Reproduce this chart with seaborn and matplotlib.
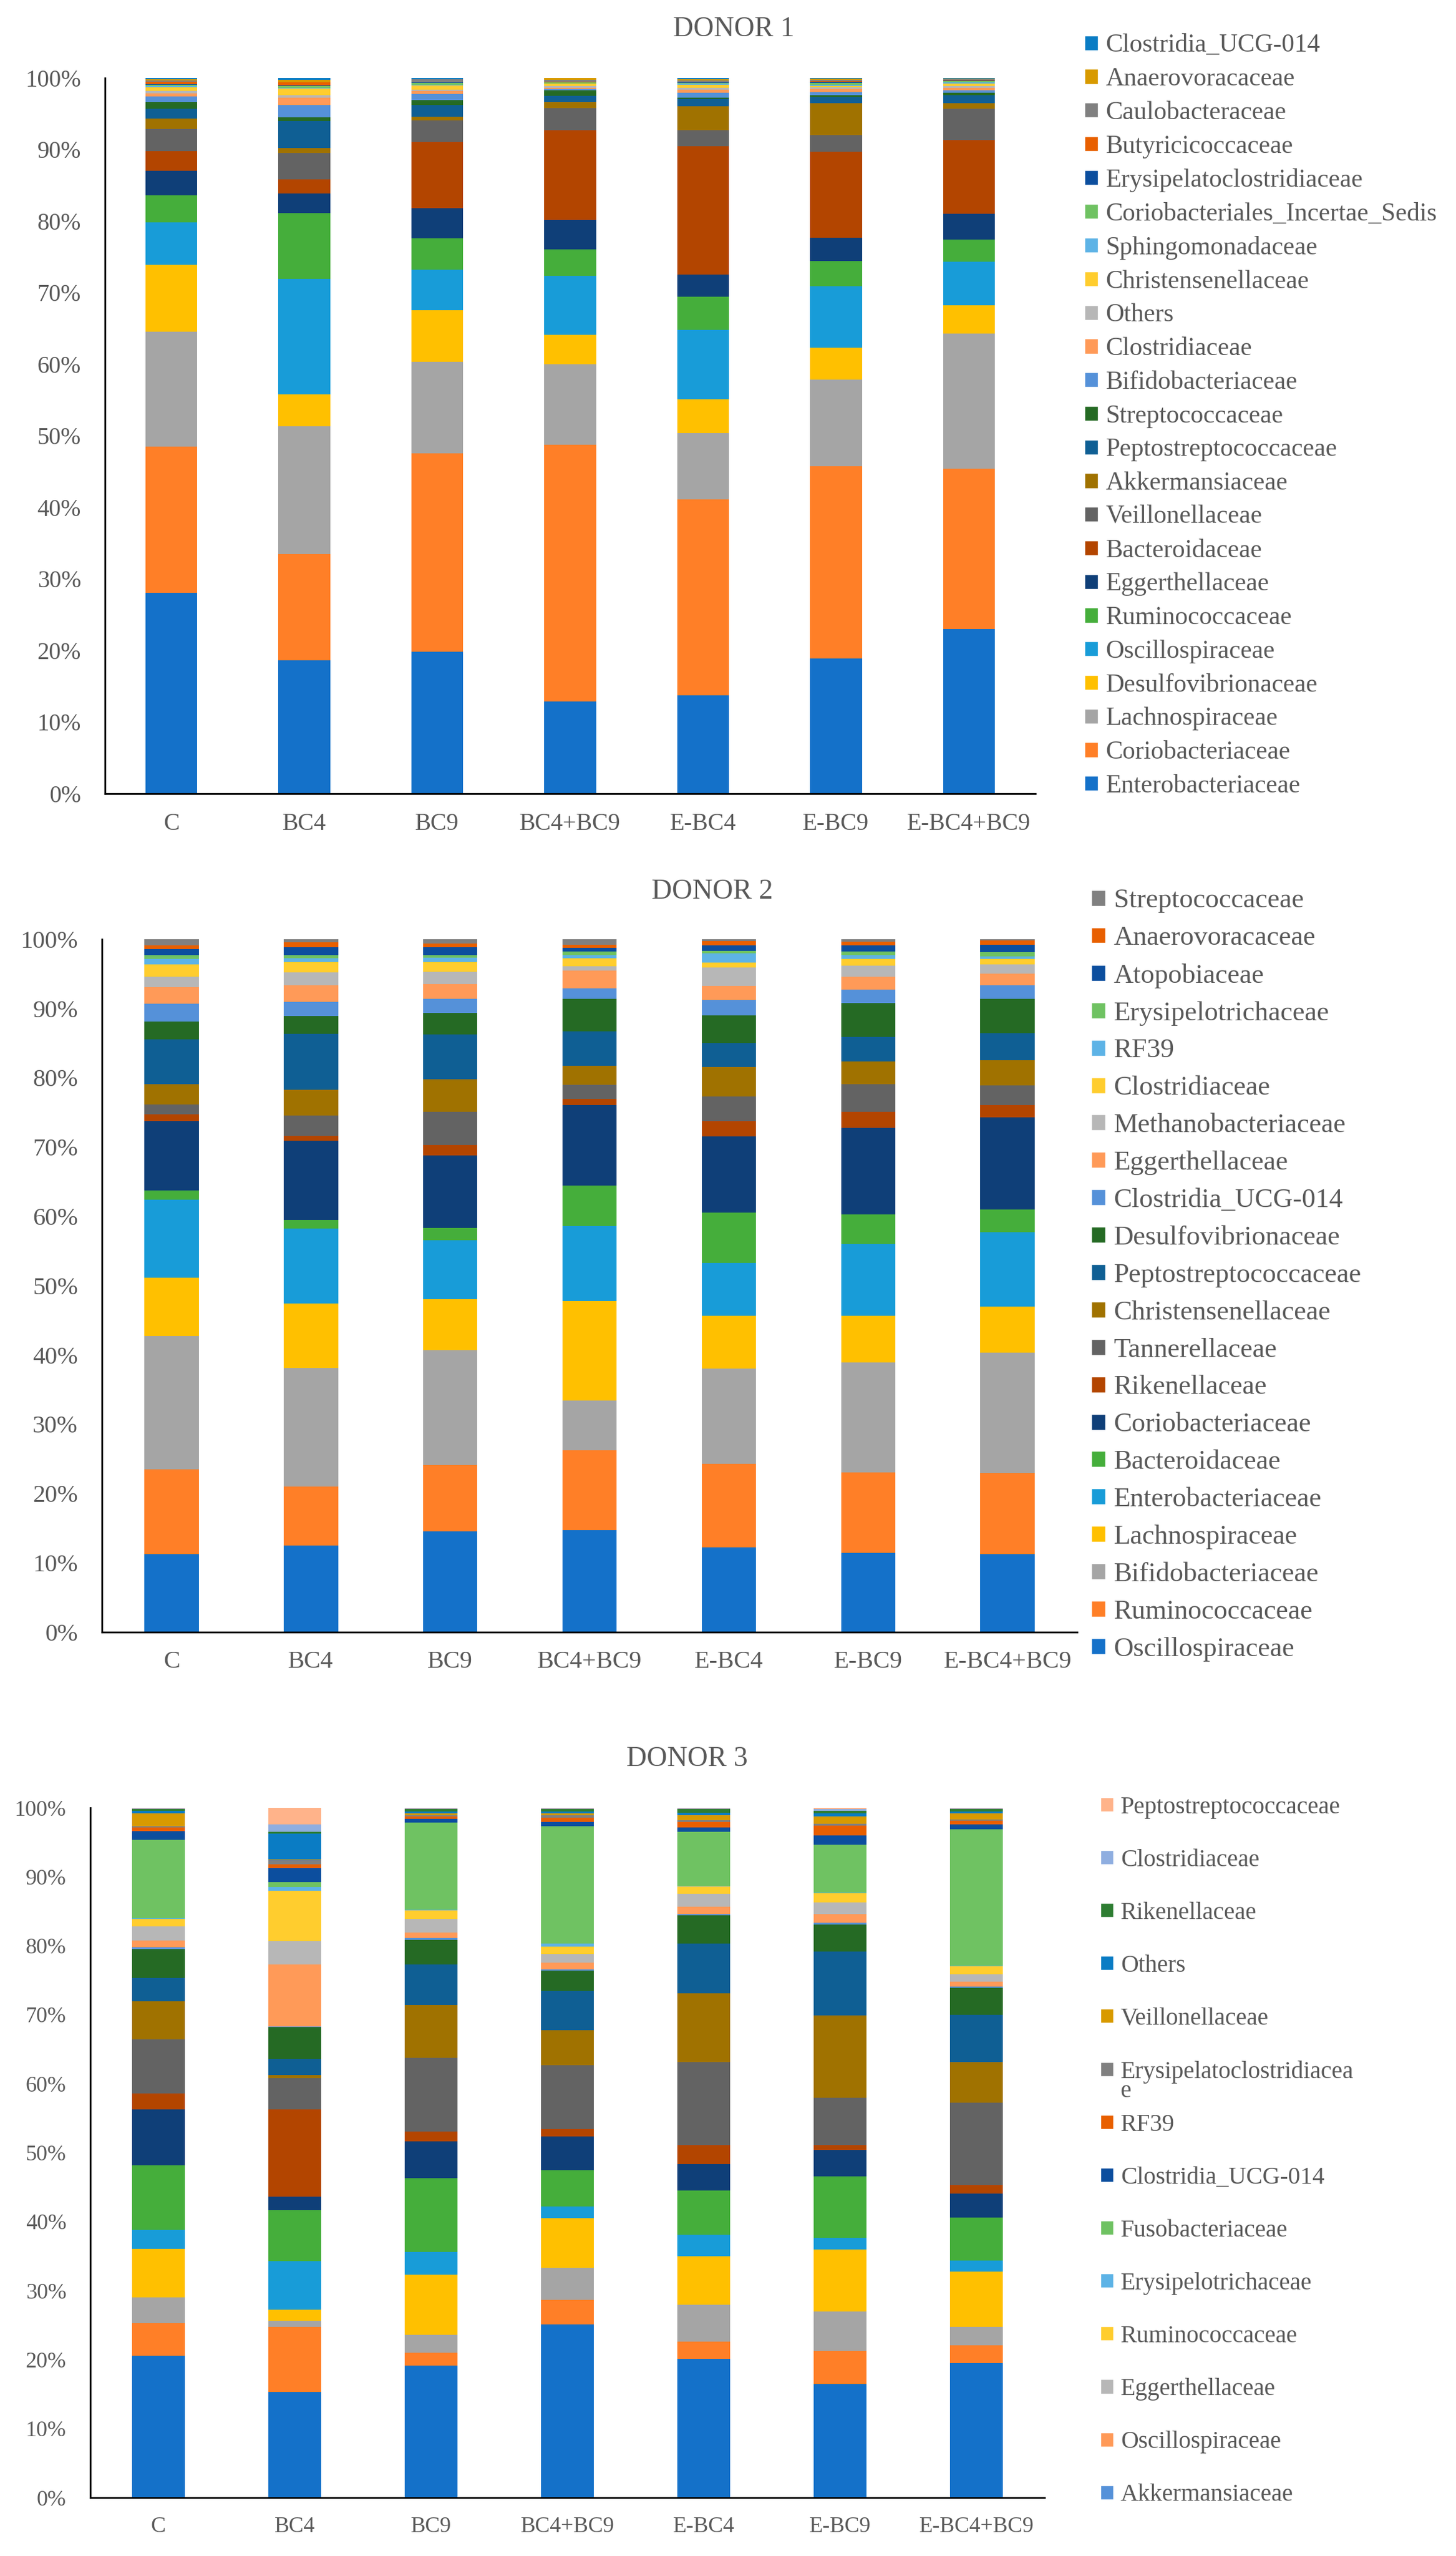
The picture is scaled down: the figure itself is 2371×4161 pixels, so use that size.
import matplotlib
matplotlib.use("Agg")
import numpy as np
import pandas as pd
import matplotlib.pyplot as plt
from matplotlib.patches import Patch
from matplotlib.ticker import PercentFormatter
import seaborn as sns

sns.set_style("white")
plt.rcParams["font.family"] = ["Liberation Serif", "DejaVu Serif"]

samples = ["C", "BC4", "BC9", "BC4+BC9", "E-BC4", "E-BC9", "E-BC4+BC9"]

# Excel-like colours, bottom segment first
colors = ["#1471C9", "#FF7F27", "#A5A5A5", "#FFC000", "#189CD8", "#45AE3B",
          "#0F3F78", "#B34500", "#636363", "#A07200", "#0F5F94", "#256A24",
          "#5591D9", "#FF9A58", "#B7B7B7", "#FFCD2E", "#5DB3E6", "#6FC262",
          "#0C4E9E", "#E85F00", "#808080", "#D89A00", "#0A7CC4", "#2E7D32",
          "#8FAEE0", "#FFB38A"]

# ------ DONOR 1 (families bottom -> top, one row per sample) ------
d1_families = ["Enterobacteriaceae", "Coriobacteriaceae", "Lachnospiraceae",
               "Desulfovibrionaceae", "Oscillospiraceae", "Ruminococcaceae",
               "Eggerthellaceae", "Bacteroidaceae", "Veillonellaceae",
               "Akkermansiaceae", "Peptostreptococcaceae", "Streptococcaceae",
               "Bifidobacteriaceae", "Clostridiaceae", "Others",
               "Christensenellaceae", "Sphingomonadaceae",
               "Coriobacteriales_Incertae_Sedis", "Erysipelatoclostridiaceae",
               "Butyricicoccaceae", "Caulobacteraceae", "Anaerovoracaceae",
               "Clostridia_UCG-014"]
d1_values = [
    [28.2, 20.5, 16.1, 9.4, 6.0, 3.8, 3.4, 2.8, 3.1, 1.4, 1.4, 0.95, 0.8, 0.38, 0.38, 0.55, 0.16, 0.16, 0.1, 0.3, 0.2, 0.2, 0.15],
    [18.7, 14.9, 17.9, 4.5, 16.2, 9.2, 2.8, 2.0, 3.7, 0.7, 3.8, 0.5, 1.7, 1.0, 0.4, 0.95, 0.05, 0.3, 0.05, 0.4, 0.05, 0.3, 0.3],
    [19.9, 27.9, 12.9, 7.2, 5.7, 4.4, 4.3, 9.3, 3.0, 0.5, 1.7, 0.7, 0.8, 0.45, 0.2, 0.6, 0.05, 0.3, 0.05, 0.05, 0.38, 0.05, 0.15],
    [12.9, 36.1, 11.3, 4.1, 8.3, 3.7, 4.1, 12.6, 3.1, 0.9, 0.8, 0.85, 0.1, 0.2, 0.3, 0.3, 0.05, 0.1, 0.05, 0.05, 0.3, 0.2, 0.05],
    [13.8, 27.5, 9.3, 4.7, 9.8, 4.6, 3.1, 18.0, 2.3, 3.3, 1.1, 0.16, 0.7, 0.38, 0.25, 0.5, 0.1, 0.1, 0.1, 0.05, 0.25, 0.1, 0.22],
    [19.0, 27.0, 12.2, 4.5, 8.6, 3.5, 3.3, 12.1, 2.3, 4.5, 0.85, 0.32, 0.45, 0.35, 0.3, 0.2, 0.1, 0.3, 0.15, 0.1, 0.2, 0.15, 0.1],
    [23.0, 22.4, 18.9, 3.9, 6.1, 3.1, 3.6, 10.3, 4.4, 0.8, 1.1, 0.3, 0.4, 0.3, 0.3, 0.3, 0.15, 0.2, 0.1, 0.05, 0.1, 0.1, 0.1],
]

# ------ DONOR 2 ------
d2_families = ["Oscillospiraceae", "Ruminococcaceae", "Bifidobacteriaceae",
               "Lachnospiraceae", "Enterobacteriaceae", "Bacteroidaceae",
               "Coriobacteriaceae", "Rikenellaceae", "Tannerellaceae",
               "Christensenellaceae", "Peptostreptococcaceae",
               "Desulfovibrionaceae", "Clostridia_UCG-014", "Eggerthellaceae",
               "Methanobacteriaceae", "Clostridiaceae", "RF39",
               "Erysipelotrichaceae", "Atopobiaceae", "Anaerovoracaceae",
               "Streptococcaceae"]
d2_values = [
    [11.2, 12.3, 19.2, 8.4, 11.3, 1.3, 10.0, 1.0, 1.4, 3.0, 6.4, 2.6, 2.6, 2.4, 1.5, 1.7, 0.8, 0.6, 0.9, 0.5, 0.9],
    [12.5, 8.5, 17.1, 9.3, 10.8, 1.3, 11.4, 0.7, 2.9, 3.8, 8.0, 2.6, 2.0, 2.4, 1.9, 1.5, 0.5, 0.5, 1.1, 0.7, 0.5],
    [14.5, 9.6, 16.6, 7.3, 8.5, 1.8, 10.5, 1.5, 4.8, 4.7, 6.4, 3.1, 2.1, 2.1, 1.8, 1.4, 0.6, 0.4, 1.1, 0.6, 0.6],
    [14.7, 11.5, 7.2, 14.4, 10.8, 5.8, 11.6, 0.9, 2.1, 2.7, 5.0, 4.7, 1.5, 2.6, 0.6, 1.1, 0.5, 0.5, 0.5, 0.5, 0.8],
    [12.2, 12.1, 13.7, 7.6, 7.7, 7.2, 11.0, 2.2, 3.6, 4.2, 3.5, 4.0, 2.2, 2.0, 2.7, 0.7, 1.3, 0.4, 0.8, 0.6, 0.3],
    [11.4, 11.6, 15.9, 6.7, 10.4, 4.3, 12.5, 2.3, 4.0, 3.2, 3.6, 4.9, 1.9, 1.9, 1.6, 0.9, 0.6, 0.5, 0.9, 0.5, 0.4],
    [11.2, 11.7, 17.4, 6.7, 10.7, 3.3, 13.3, 1.7, 2.9, 3.6, 3.9, 5.0, 1.9, 1.7, 1.3, 0.8, 0.4, 0.6, 1.1, 0.6, 0.2],
]

# ------ DONOR 3 (legend of the original only lists the top 14) ------
d3_families = ["Bacteroidaceae", "Lachnospiraceae", "Enterobacteriaceae",
               "Bifidobacteriaceae", "Coriobacteriaceae", "Desulfovibrionaceae",
               "Sphingomonadaceae", "Butyricicoccaceae", "Tannerellaceae",
               "Christensenellaceae", "Streptococcaceae", "Atopobiaceae",
               "Akkermansiaceae", "Oscillospiraceae", "Eggerthellaceae",
               "Ruminococcaceae", "Erysipelotrichaceae", "Fusobacteriaceae",
               "Clostridia_UCG-014", "RF39", "Erysipelatoclostridiaceae",
               "Veillonellaceae", "Others", "Rikenellaceae", "Clostridiaceae",
               "Peptostreptococcaceae"]
d3_values = [
    [20.6, 4.7, 3.7, 7.1, 2.7, 9.4, 8.1, 2.3, 7.8, 5.6, 3.3, 4.2, 0.3, 1.0, 2.0, 1.1, 0.1, 11.4, 1.2, 0.6, 0.1, 1.9, 0.4, 0.2, 0.1, 0.1],
    [15.3, 9.5, 0.9, 1.6, 7.0, 7.4, 1.9, 12.7, 4.5, 0.5, 2.3, 4.6, 0.1, 9.0, 3.4, 7.3, 0.5, 0.7, 2.1, 0.5, 0.6, 0.1, 3.8, 0.2, 1.1, 2.4],
    [19.2, 1.8, 2.6, 8.7, 3.3, 10.7, 5.4, 1.4, 10.7, 7.6, 5.9, 3.6, 0.2, 0.8, 2.0, 1.2, 0.1, 12.7, 0.5, 0.4, 0.1, 0.3, 0.3, 0.3, 0.1, 0.1],
    [25.1, 3.6, 4.6, 7.2, 1.7, 5.3, 4.9, 1.0, 9.3, 5.1, 5.7, 2.9, 0.2, 1.0, 1.2, 1.1, 0.4, 17.0, 0.7, 0.6, 0.3, 0.3, 0.3, 0.3, 0.1, 0.1],
    [20.1, 2.5, 5.4, 7.0, 3.1, 6.4, 3.9, 2.7, 12.0, 10.0, 7.2, 4.1, 0.2, 1.1, 1.8, 1.1, 0.1, 7.8, 0.7, 0.8, 0.2, 0.7, 0.4, 0.5, 0.1, 0.1],
    [16.5, 4.8, 5.7, 9.0, 1.7, 8.9, 3.8, 0.7, 6.9, 11.9, 9.3, 3.9, 0.3, 1.2, 1.7, 1.3, 0.1, 7.0, 1.3, 1.4, 0.3, 1.1, 0.4, 0.4, 0.2, 0.2],
    [19.5, 2.6, 2.7, 8.0, 1.6, 6.2, 3.5, 1.2, 12.0, 5.8, 6.9, 3.9, 0.2, 0.7, 1.1, 1.1, 0.1, 19.8, 0.7, 0.5, 0.2, 0.9, 0.3, 0.3, 0.1, 0.1],
]

text_col = "#595959"


def draw_donor(ax, families, values, tick_size):
    rows = []
    for s, vals in zip(samples, values):
        for f, v in zip(families, vals):
            rows.append({"sample": s, "family": f, "pct": v})
    df = pd.DataFrame(rows)
    df["sample"] = pd.Categorical(df["sample"], categories=samples, ordered=True)
    pal = dict(zip(families, colors))
    # 100% stacked bars: first hue level ends up on top
    sns.histplot(data=df, x="sample", hue="family", weights="pct",
                 hue_order=families[::-1], palette=pal, multiple="fill",
                 discrete=True, shrink=0.39, alpha=1, linewidth=0,
                 edgecolor="none", legend=False, ax=ax)
    ax.set_xlim(-0.5, len(samples) - 0.5)
    ax.set_ylim(0, 1)
    ax.set_yticks(np.linspace(0, 1, 11))
    ax.yaxis.set_major_formatter(PercentFormatter(1.0, decimals=0))
    ax.set_xlabel("")
    ax.set_ylabel("")
    ax.tick_params(axis="both", length=0, labelsize=tick_size, colors=text_col)
    ax.tick_params(axis="y", pad=28)
    ax.tick_params(axis="x", pad=22)
    sns.despine(ax=ax)
    for side in ["left", "bottom"]:
        ax.spines[side].set_color("black")
        ax.spines[side].set_linewidth(2)
    return pal


def add_legend(pal, names, labels, x, y, size, spacing):
    return fig.legend([Patch(facecolor=pal[f]) for f in names], labels,
                      loc="center left", bbox_to_anchor=(x, y), frameon=False,
                      fontsize=size, labelcolor=text_col, handlelength=0.52,
                      handleheight=0.52, handletextpad=0.3, labelspacing=spacing,
                      borderpad=0, borderaxespad=0)


fig = plt.figure(figsize=(23.71, 41.61), dpi=100)

# ------ DONOR 1 ------
ax1 = fig.add_axes([0.0721, 0.6895, 0.639, 0.280])
pal1 = draw_donor(ax1, d1_families, d1_values, 28)
fig.text(0.504, 0.9885, "DONOR 1", ha="center", va="center", fontsize=33, color=text_col)
shown1 = d1_families[::-1]
add_legend(pal1, shown1, shown1, 0.745, 0.8373, 30, 0.39)

# ------ DONOR 2 ------
ax2 = fig.add_axes([0.070, 0.3615, 0.6698, 0.2711])
pal2 = draw_donor(ax2, d2_families, d2_values, 29)
fig.text(0.489, 0.651, "DONOR 2", ha="center", va="center", fontsize=33, color=text_col)
shown2 = d2_families[::-1]
add_legend(pal2, shown2, shown2, 0.7495, 0.5012, 32, 0.47)

# ------ DONOR 3 ------
ax3 = fig.add_axes([0.062, 0.0228, 0.6554, 0.2699])
pal3 = draw_donor(ax3, d3_families, d3_values, 26)
fig.text(0.472, 0.3117, "DONOR 3", ha="center", va="center", fontsize=33, color=text_col)
shown3 = d3_families[::-1][:14]
labels3 = ["Erysipelatoclostridiacea" if f == "Erysipelatoclostridiaceae" else f
           for f in shown3]
leg3 = add_legend(pal3, shown3, labels3, 0.756, 0.1584, 28.5, 1.24)
# wrapped last letter, as in the original legend
wrap_txt = leg3.get_texts()[labels3.index("Erysipelatoclostridiacea")]
fig.canvas.draw()
ax3.annotate("e", xy=(0, 0), xycoords=wrap_txt, xytext=(0, 4),
             textcoords="offset points", ha="left", va="top",
             fontsize=28.5, color=text_col, annotation_clip=False)

fig.savefig("out.png", dpi=100)
